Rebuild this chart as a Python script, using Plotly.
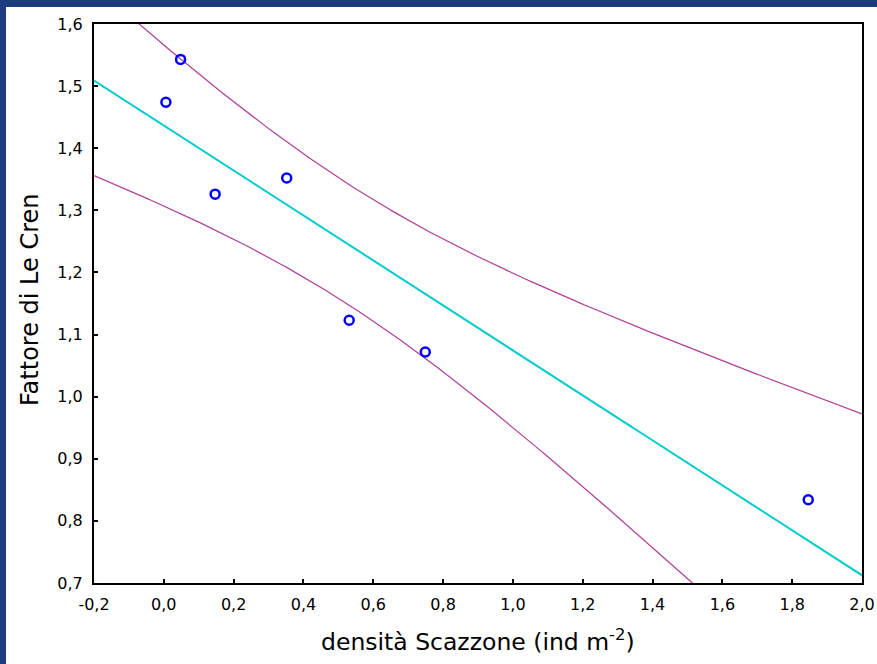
import numpy as np
import plotly.graph_objects as go

# Densità dello scazzone (ind m^-2) e fattore di condizione di Le Cren per stazione
densita = [0.006, 0.048, 0.147, 0.352, 0.531, 0.749, 1.846]
fattore_le_cren = [1.474, 1.543, 1.326, 1.352, 1.123, 1.072, 0.834]

x_ticks = [-0.2, 0.0, 0.2, 0.4, 0.6, 0.8, 1.0, 1.2, 1.4, 1.6, 1.8, 2.0]
y_ticks = [0.7, 0.8, 0.9, 1.0, 1.1, 1.2, 1.3, 1.4, 1.5, 1.6]
T_975_DF5 = 2.5706  # quantile t di Student (0.975, 5 g.d.l.)

x = np.array(densita)
y = np.array(fattore_le_cren)
n = len(x)
slope, intercept = np.polyfit(x, y, 1)
resid = y - (intercept + slope * x)
s = np.sqrt(np.sum(resid ** 2) / (n - 2))
sxx = np.sum((x - x.mean()) ** 2)

# Retta di regressione con banda di confidenza al 95%
xg = np.linspace(-0.2, 2.0, 300)
yfit = intercept + slope * xg
half = T_975_DF5 * s * np.sqrt(1.0 / n + (xg - x.mean()) ** 2 / sxx)

fig = go.Figure()
band_col = "#B23F98"
fig.add_trace(go.Scatter(x=xg, y=yfit + half, mode="lines",
                         line=dict(color=band_col, width=1.2), hoverinfo="skip"))
fig.add_trace(go.Scatter(x=xg, y=yfit - half, mode="lines",
                         line=dict(color=band_col, width=1.2), hoverinfo="skip"))
fig.add_trace(go.Scatter(x=xg, y=yfit, mode="lines",
                         line=dict(color="#00CCCC", width=2), hoverinfo="skip"))
fig.add_trace(go.Scatter(x=densita, y=fattore_le_cren, mode="markers",
                         marker=dict(symbol="circle-open", size=9, color="#0000FF",
                                     line=dict(width=2.5, color="#0000FF"))))

tick_font = dict(family="DejaVu Sans", size=16, color="#000000")
fig.update_xaxes(range=[-0.2, 2.0], tickvals=x_ticks,
                 ticktext=[f"{v:.1f}".replace(".", ",") for v in x_ticks],
                 ticks="inside", ticklen=4, tickwidth=1.5, tickcolor="#000000",
                 showline=True, linecolor="#000000", linewidth=2, mirror=True,
                 showgrid=False, zeroline=False, tickfont=tick_font,
                 ticklabelstandoff=6, automargin=False)
fig.update_yaxes(range=[0.7, 1.6], tickvals=y_ticks,
                 ticktext=[f"{v:.1f}".replace(".", ",") for v in y_ticks],
                 ticks="inside", ticklen=4, tickwidth=1.5, tickcolor="#000000",
                 showline=True, linecolor="#000000", linewidth=2, mirror=True,
                 showgrid=False, zeroline=False, tickfont=tick_font,
                 ticklabelstandoff=6, automargin=False)

W, H = 877, 664
L, R, T, B = 94, 15, 24, 81
pw, ph = W - L - R, H - T - B


def px_x(p):
    return (p - L) / pw


def px_y(p):
    return (H - B - p) / ph


fig.update_layout(
    width=W, height=H, showlegend=False,
    margin=dict(l=L, r=R, t=T, b=B, pad=0, autoexpand=False),
    paper_bgcolor="#1E3A80", plot_bgcolor="#FFFFFF",
    shapes=[dict(type="rect", xref="paper", yref="paper", layer="below",
                 x0=px_x(6), x1=px_x(W + 20), y0=px_y(H + 20), y1=px_y(7),
                 fillcolor="#FFFFFF", line=dict(width=0))],
    annotations=[
        dict(text="densità Scazzone (ind m<sup>-2</sup>)", xref="paper", yref="paper",
             x=px_x(478), y=px_y(640), xanchor="center", yanchor="middle",
             showarrow=False, font=dict(family="DejaVu Sans", size=23.5, color="#000000")),
        dict(text="Fattore di Le Cren", xref="paper", yref="paper", textangle=-90,
             x=px_x(30), y=px_y(300), xanchor="center", yanchor="middle",
             showarrow=False, font=dict(family="DejaVu Sans", size=24, color="#000000")),
    ],
)

fig.write_html("out.html")
